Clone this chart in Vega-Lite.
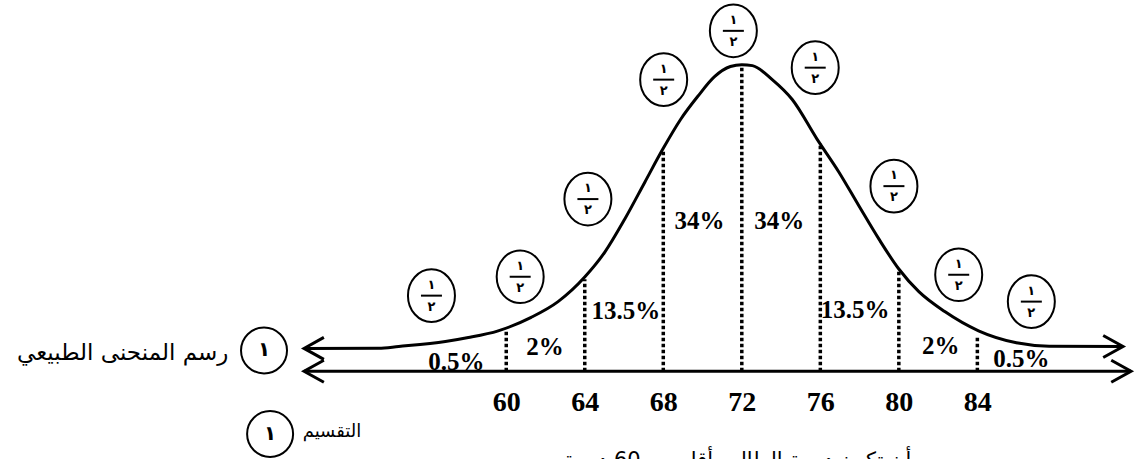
{
  "$schema": "https://vega.github.io/schema/vega-lite/v6.json",
  "width": 1138,
  "height": 461,
  "padding": 0,
  "autosize": {"type": "fit", "contains": "padding"},
  "background": "white",
  "config": {"view": {"stroke": null}},
  "datasets": {
    "base": [{"x": 49.7, "y": 0}, {"x": 91.83, "y": 0}],
    "curve": [
      {"x": 49.7, "y": 7.47}, {"x": 53.5, "y": 7.5}, {"x": 54.52, "y": 8.1}, {"x": 56.9, "y": 9.74},
      {"x": 58.07, "y": 11.0}, {"x": 59.59, "y": 13.2}, {"x": 61.27, "y": 17.6}, {"x": 62.64, "y": 22.73},
      {"x": 64.01, "y": 30.84}, {"x": 65.03, "y": 38.96}, {"x": 66.04, "y": 49.68}, {"x": 67.06, "y": 61.69},
      {"x": 67.97, "y": 72.4}, {"x": 68.88, "y": 82.14}, {"x": 69.75, "y": 89.61}, {"x": 70.61, "y": 96.1},
      {"x": 71.42, "y": 99.4}, {"x": 72.0, "y": 100}, {"x": 72.54, "y": 99.7}, {"x": 73.55, "y": 95.13},
      {"x": 74.57, "y": 88.64}, {"x": 75.84, "y": 75.65}, {"x": 76.95, "y": 64.94}, {"x": 77.97, "y": 53.9},
      {"x": 78.98, "y": 43.18}, {"x": 79.99, "y": 33.44}, {"x": 81.02, "y": 25.97}, {"x": 82.34, "y": 19.48},
      {"x": 84.06, "y": 13.2}, {"x": 85.99, "y": 9.3}, {"x": 87.66, "y": 8.2}, {"x": 91.42, "y": 8.1}
    ],
    "dots": [
      {"x": 60, "bottom": 0, "top": 13.0}, {"x": 64, "bottom": 0, "top": 30.0}, {"x": 68, "bottom": 0, "top": 72.0},
      {"x": 72, "bottom": 0, "top": 99}, {"x": 76, "bottom": 0, "top": 74.5}, {"x": 80, "bottom": 0, "top": 32.5},
      {"x": 84, "bottom": 0, "top": 11.6}
    ],
    "arrows": [
      {"x": 49.7, "y": 7.47, "dir": "L"}, {"x": 49.7, "y": 0, "dir": "L"},
      {"x": 91.42, "y": 8.1, "dir": "R"}, {"x": 91.83, "y": 0, "dir": "R"}
    ],
    "pct": [
      {"x": 57.46, "y": 3.0, "t": "0.5%"}, {"x": 61.98, "y": 7.8, "t": "2%"},
      {"x": 66.09, "y": 19.8, "t": "13.5%"}, {"x": 69.85, "y": 49.0, "t": "34%"},
      {"x": 73.91, "y": 49.0, "t": "34%"}, {"x": 77.77, "y": 20.1, "t": "13.5%"},
      {"x": 82.13, "y": 8.4, "t": "2%"}, {"x": 86.24, "y": 4.0, "t": "0.5%"}
    ],
    "half": [
      {"x": 56.19, "y": 24.68}, {"x": 60.71, "y": 30.84}, {"x": 64.16, "y": 56.17},
      {"x": 68.02, "y": 95.13}, {"x": 71.57, "y": 111.04}, {"x": 75.74, "y": 99.03},
      {"x": 79.75, "y": 60.39}, {"x": 83.05, "y": 31.49}, {"x": 86.75, "y": 22.73}
    ],
    "side": [{"x": 47.66, "y": 6.8}, {"x": 47.97, "y": -20.45}],
    "words": [
      {"x": 40.46, "y": 5.84, "t": "رسم المنحنى الطبيعي", "s": 23},
      {"x": 51.12, "y": -19.8, "t": "التقسيم", "s": 18}
    ],
    "bottom": [{"x": 71.78, "y": -31.3, "t": "أن تكون درجة الطالب أقل من 60 درجة"}]
  },
  "encoding": {
    "x": {"field": "x", "type": "quantitative", "scale": {"domain": [34.21, 91.98], "nice": false, "zero": false},
      "axis": {"values": [60, 64, 68, 72, 76, 80, 84], "format": "d", "orient": "bottom", "offset": -88, "domain": false,
        "ticks": false, "tickSize": 0, "grid": false, "title": null, "labelFont": "Liberation Serif", "labelFontWeight": "bold",
        "labelFontSize": 28, "labelPadding": 17, "labelColor": "black", "labelFlush": false, "labelOverlap": false}},
    "y": {"field": "y", "type": "quantitative", "scale": {"domain": [-28.6, 121.1], "nice": false, "zero": false}, "axis": null}
  },
  "layer": [
    {"data": {"name": "base"}, "mark": {"type": "line", "color": "black", "strokeWidth": 3}},
    {"data": {"name": "dots"}, "mark": {"type": "rule", "color": "black", "strokeWidth": 3.5, "strokeDash": [3.5, 2.5]},
     "encoding": {"y": {"field": "bottom", "type": "quantitative"}, "y2": {"field": "top"}}},
    {"data": {"name": "curve"}, "mark": {"type": "line", "color": "black", "strokeWidth": 3, "interpolate": "monotone"}},
    {"data": {"name": "arrows"}, "mark": {"type": "point", "filled": false, "color": "black", "strokeWidth": 3, "size": 121, "opacity": 1},
     "encoding": {"shape": {"field": "dir", "type": "nominal", "legend": null,
       "scale": {"domain": ["L", "R"], "range": ["M3.6,-2L0,0L3.6,2", "M-3.6,-2L0,0L-3.6,2"]}}}},
    {"data": {"name": "pct"}, "mark": {"type": "text", "font": "Liberation Serif", "fontWeight": "bold", "fontSize": 25, "baseline": "middle", "color": "black"},
     "encoding": {"text": {"field": "t"}}},
    {"data": {"name": "half"}, "mark": {"type": "point", "filled": false, "color": "black", "strokeWidth": 2, "opacity": 1,
       "shape": "M0,-1.12A1,1.12 0 1,1 0,1.12A1,1.12 0 1,1 0,-1.12Z", "size": 2209}},
    {"data": {"name": "half"}, "mark": {"type": "point", "filled": false, "color": "black", "strokeWidth": 2, "opacity": 1,
       "shape": "M-1,0L1,0", "size": 441}},
    {"data": {"name": "half"}, "mark": {"type": "text", "font": "DejaVu Sans", "fontWeight": "bold", "fontSize": 13, "baseline": "middle", "dy": -11, "color": "black"},
     "encoding": {"text": {"value": "١"}}},
    {"data": {"name": "half"}, "mark": {"type": "text", "font": "DejaVu Sans", "fontWeight": "bold", "fontSize": 13, "baseline": "middle", "dy": 11, "color": "black"},
     "encoding": {"text": {"value": "٢"}}},
    {"data": {"name": "side"}, "mark": {"type": "point", "filled": false, "color": "black", "strokeWidth": 2, "opacity": 1, "shape": "circle", "size": 2116}},
    {"data": {"name": "side"}, "mark": {"type": "text", "font": "DejaVu Sans", "fontWeight": "bold", "fontSize": 20, "baseline": "middle", "color": "black"},
     "encoding": {"text": {"value": "١"}}},
    {"data": {"name": "words"}, "mark": {"type": "text", "font": "DejaVu Sans", "baseline": "middle", "align": "center", "color": "black"},
     "encoding": {"text": {"field": "t"}, "size": {"field": "s", "type": "quantitative", "scale": null, "legend": null}}},
    {"data": {"name": "bottom"}, "mark": {"type": "text", "font": "DejaVu Sans", "fontSize": 21, "baseline": "alphabetic", "color": "black", "clip": true},
     "encoding": {"text": {"field": "t"}}}
  ]
}
